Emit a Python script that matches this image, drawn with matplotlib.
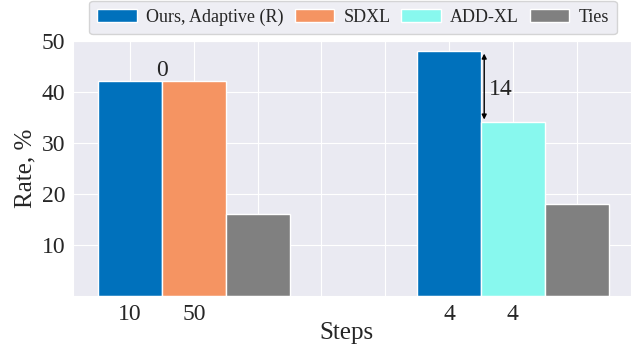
import matplotlib.pyplot as plt
import seaborn as sns

sns.set_style("darkgrid")
plt.rcParams['font.family'] = ['Liberation Serif', 'DejaVu Serif']

# data
methods = ["Ours, Adaptive (R)", "SDXL", "ADD-XL", "Ties"]
colors = ["#0071bc", "#f59462", "#88f8ee", "#808080"]
positions = [[0, 5], [1], [6], [2, 7]]
rates = [[42, 48], [42], [34], [16, 18]]
tick_pos = [0, 1, 2, 3, 4, 5, 6, 7]
tick_labels = ["10", "50", "", "", "", "4", "4", ""]

fig = plt.figure(figsize=(6.31, 3.47), dpi=100)
ax = fig.add_axes([0.1157, 0.147, 0.8843, 0.736])

for name, col, xs, ys in zip(methods, colors, positions, rates):
    ax.bar(xs, ys, width=1.0, color=col, edgecolor="white", linewidth=1, label=name)

# differences
ax.text(0.5, 42.0, "0", ha="center", va="bottom", fontsize=17)
ax.annotate("", xy=(5.55, 48), xytext=(5.55, 34),
            arrowprops=dict(arrowstyle="<|-|>", color="black", lw=1, mutation_scale=7))
ax.text(5.63, 40.5, "14", ha="left", va="center", fontsize=17)

ax.set_xlim(-0.893, 7.85)
ax.set_ylim(0, 50)
ax.set_xticks(tick_pos)
ax.set_xticklabels(tick_labels, fontsize=17)
ax.set_yticks([10, 20, 30, 40, 50])
ax.tick_params(axis="y", labelsize=17, pad=2)
ax.tick_params(axis="x", pad=2)
ax.set_ylabel("Rate, %", fontsize=18)
ax.set_xlabel("Steps", fontsize=18)
ax.xaxis.set_label_coords(0.49, -0.1)

ax.legend(loc="lower center", bbox_to_anchor=(0.502, 0.99), ncol=4, fontsize=13,
          frameon=True, handlelength=2.2, handletextpad=0.5, columnspacing=0.6,
          borderpad=0.45)

fig.savefig("out.png", dpi=100)
